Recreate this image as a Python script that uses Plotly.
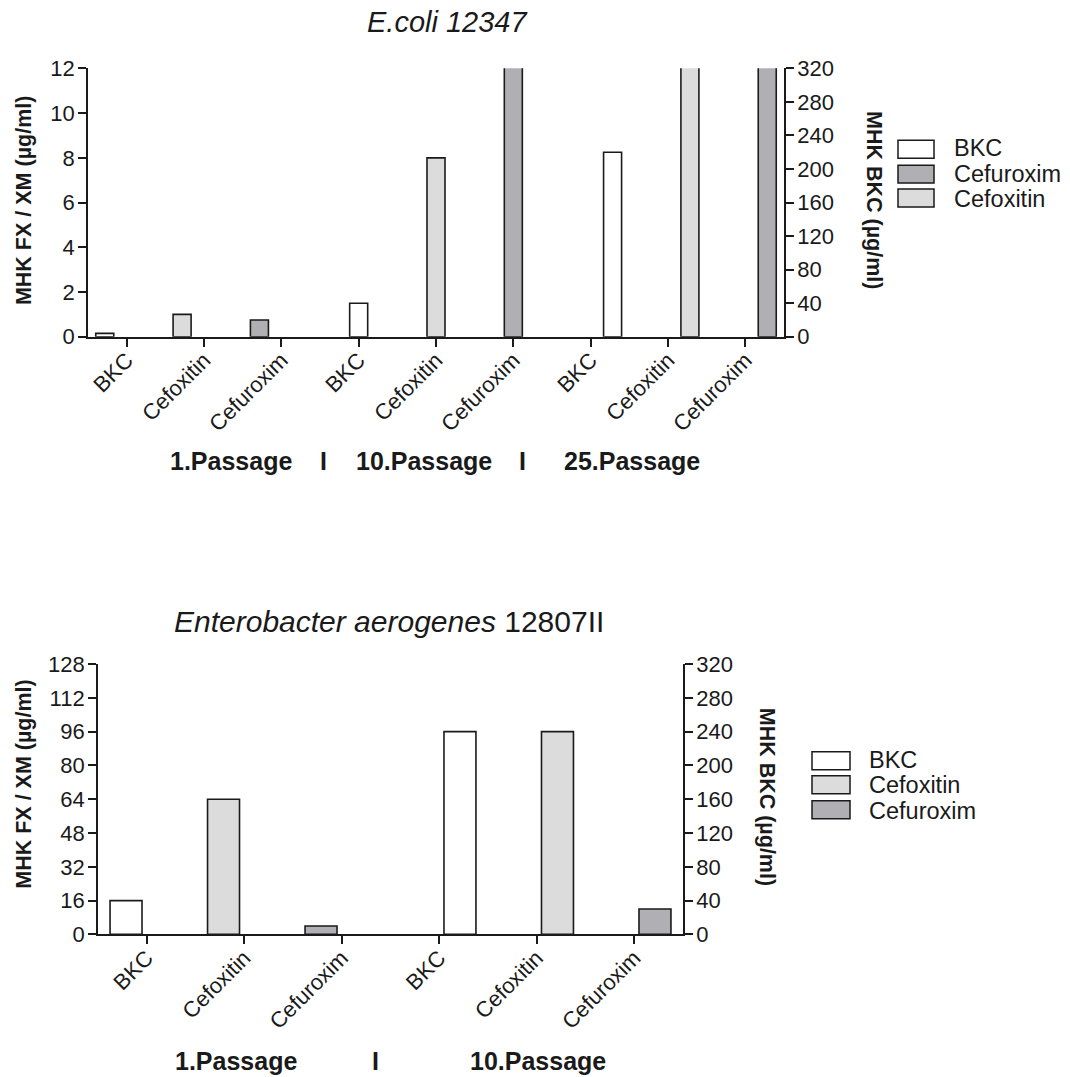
import plotly.graph_objects as go

# ---- data -----------------------------------------------------------------
drugs = ["BKC", "Cefoxitin", "Cefuroxim"]

# E.coli 12347 (BKC on right axis, antibiotics on left axis; µg/ml)
ecoli_passages = ["1.Passage", "10.Passage", "25.Passage"]
ecoli_bkc = [4, 40, 220]
ecoli_cefoxitin = [1, 8, 16]
ecoli_cefuroxim = [0.75, 16, 32]

# Enterobacter aerogenes 12807II
entero_passages = ["1.Passage", "10.Passage"]
entero_bkc = [40, 240]
entero_cefoxitin = [64, 96]
entero_cefuroxim = [4, 12]

# axis ticks
ecoli_left_ticks = [0, 2, 4, 6, 8, 10, 12]
entero_left_ticks = [0, 16, 32, 48, 64, 80, 96, 112, 128]
bkc_ticks = [0, 40, 80, 120, 160, 200, 240, 280, 320]

# ---- page geometry ----------------------------------------------------------
W, H = 1070, 1077
# vertical placement on the captured page: y_page = Y_SCALE * y_fig + Y_SHIFT
Y_SCALE, Y_SHIFT = 0.979, 11.5

FONT = "Liberation Sans, Arial, sans-serif"
INK = "#1a1a1a"
COLORS = {"BKC": "#ffffff", "Cefoxitin": "#dcdcdc", "Cefuroxim": "#b0b0b4"}


def px(x):
    """page x (px) -> paper fraction"""
    return x / W


def py(y):
    """page y (px, from top) -> paper fraction"""
    return 1 - ((y - Y_SHIFT) / Y_SCALE) / H


def cat(passage, drug):
    return f"{passage} {drug}"


fig = go.Figure()


def add_panel(passages, bkc, fox, xm, xa, ya_left, ya_right, group, width):
    for i, p in enumerate(passages):
        common = dict(offsetgroup=f"{group}{i}", alignmentgroup=group,
                      width=width, showlegend=False, hoverinfo="skip",
                      marker_line=dict(color=INK, width=1.6), xaxis=xa)
        fig.add_trace(go.Bar(x=[cat(p, "BKC")], y=[bkc[i]], yaxis=ya_right,
                             marker_color=COLORS["BKC"], **common))
        fig.add_trace(go.Bar(x=[cat(p, "Cefoxitin"), cat(p, "Cefuroxim")],
                             y=[fox[i], xm[i]], yaxis=ya_left,
                             marker_color=[COLORS["Cefoxitin"], COLORS["Cefuroxim"]],
                             **common))


add_panel(ecoli_passages, ecoli_bkc, ecoli_cefoxitin, ecoli_cefuroxim,
          "x", "y", "y2", "ecoli", 0.233)
add_panel(entero_passages, entero_bkc, entero_cefoxitin, entero_cefuroxim,
          "x2", "y3", "y4", "entero", 0.328)

axis_style = dict(showline=True, linecolor=INK, linewidth=1.8, ticks="outside",
                  ticklen=8, tickwidth=1.6, tickcolor=INK, showgrid=False,
                  zeroline=False, fixedrange=True)
xtick_style = dict(tickangle=-45, tickfont=dict(size=22), ticklabelstandoff=-8)
ytick_style = dict(tickfont=dict(size=22), ticklabelstandoff=-1)

ecoli_cats = [cat(p, d) for p in ecoli_passages for d in drugs]
entero_cats = [cat(p, d) for p in entero_passages for d in drugs]

fig.update_layout(
    width=W, height=H, margin=dict(l=0, r=0, t=0, b=0),
    paper_bgcolor="white", plot_bgcolor="white",
    font=dict(family=FONT, color=INK),
    barmode="group", bargap=0.15,
    xaxis=dict(domain=[px(88), px(784)], anchor="y", type="category",
               categoryorder="array", categoryarray=ecoli_cats,
               tickmode="array", tickvals=ecoli_cats,
               ticktext=[d for p in ecoli_passages for d in drugs],
               **xtick_style, **axis_style),
    yaxis=dict(domain=[py(337), py(68)], anchor="x", range=[0, 12],
               tickmode="array", tickvals=ecoli_left_ticks,
               **ytick_style, **axis_style),
    yaxis2=dict(overlaying="y", anchor="x", side="right", range=[0, 320],
                tickmode="array", tickvals=bkc_ticks,
                **ytick_style, **axis_style),
    xaxis2=dict(domain=[px(98), px(683)], anchor="y3", type="category",
                categoryorder="array", categoryarray=entero_cats,
                tickmode="array", tickvals=entero_cats,
                ticktext=[d for p in entero_passages for d in drugs],
                **xtick_style, **axis_style),
    yaxis3=dict(domain=[py(936), py(665)], anchor="x2", range=[0, 128],
                tickmode="array", tickvals=entero_left_ticks,
                **ytick_style, **axis_style),
    yaxis4=dict(overlaying="y3", anchor="x2", side="right", range=[0, 320],
                tickmode="array", tickvals=bkc_ticks,
                **ytick_style, **axis_style),
)

annotations = []


def text(x, y, s, size, anchor="center", angle=0, bold=False):
    annotations.append(dict(
        x=px(x), y=py(y), xref="paper", yref="paper", text=s, showarrow=False,
        xanchor=anchor, yanchor="middle", textangle=angle,
        font=dict(family=FONT, size=size, color=INK,
                  weight="bold" if bold else "normal")))


# titles
text(447, 22, "<i>E.coli 12347</i>", 29)
text(389, 622, "<i>Enterobacter aerogenes</i> 12807II", 30)

# axis titles
text(24, 201, "MHK FX / XM (µg/ml)", 21.5, angle=-90, bold=True)
text(874, 200, "MHK BKC (µg/ml)", 21.5, angle=90, bold=True)
text(24, 786, "MHK FX / XM (µg/ml)", 21.5, angle=-90, bold=True)
text(767, 798, "MHK BKC (µg/ml)", 21.5, angle=90, bold=True)

# passage captions
for x, s in zip([231, 323, 424, 522, 632],
                [ecoli_passages[0], "I", ecoli_passages[1], "I", ecoli_passages[2]]):
    text(x, 462, s, 25, bold=True)
for x, s in zip([236, 375, 538], [entero_passages[0], "I", entero_passages[1]]):
    text(x, 1063, s, 25, bold=True)

# legends: swatch rows and label rows
shapes = []


def legend(x0, x1, xt, swatch_rows, label_rows, names):
    for yc, yl, name in zip(swatch_rows, label_rows, names):
        shapes.append(dict(type="rect", xref="paper", yref="paper",
                           x0=px(x0), x1=px(x1), y0=py(yc + 9), y1=py(yc - 9),
                           line=dict(color=INK, width=1.5),
                           fillcolor=COLORS[name]))
        text(xt, yl, name, 23.5, anchor="left")


legend(898, 934, 952, [149, 174, 198], [148, 173.5, 199],
       ["BKC", "Cefuroxim", "Cefoxitin"])
legend(812, 850, 867, [762, 786, 811], [761, 786.5, 812],
       ["BKC", "Cefoxitin", "Cefuroxim"])

fig.update_layout(annotations=annotations, shapes=shapes)

fig.write_html("out.html", config={"displayModeBar": False})
